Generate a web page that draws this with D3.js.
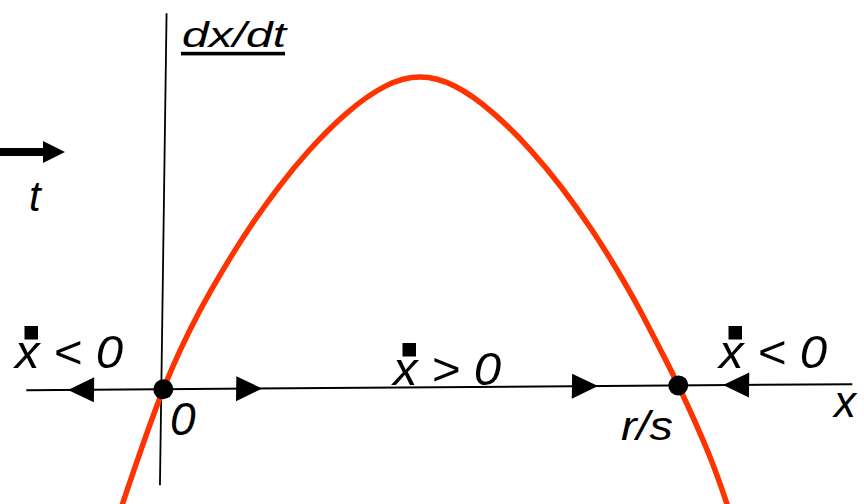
<!DOCTYPE html>
<html>
<head>
<meta charset="utf-8">
<script src="https://cdn.jsdelivr.net/npm/d3@7"></script>
<style>
  html, body { margin: 0; padding: 0; background: #fff; }
  svg { display: block; }
  text { font-family: "Liberation Sans", Arial, sans-serif; font-style: italic; fill: #000; }
</style>
</head>
<body>
<svg id="chart" width="864" height="504"></svg>
<script>
// Logistic growth phase line: population x against its rate dx/dt
// x measured so that the carrying capacity r/s sits at 100
const popX  = [-7.8, 0, 6.95, 11.25, 16.03, 21.88, 27.74, 34.88, 42.31, 49.0,
               55.74, 63.31, 70.66, 76.72, 82.8, 87.8, 92.32, 96.35, 100, 105.95, 109.98];
const rateV = [-9.45, 0, 6.36, 9.57, 12.78, 16.22, 19.19, 22.14, 24.29, 25.0,
               24.25, 22.05, 19.05, 16.05, 12.57, 9.33, 6.1, 2.95, 0, -5.38, -9.82];

// Equilibria (zero crossings) and their labels
const equilibria = [0, 100];
const equilibriumLabels = ["0", "r/s"];

// Flow direction arrows on the x axis (tip position, direction)
const flowTips = [-18.5, 19.2, 84.4, 108.7];
const flowDirs = [-1, 1, 1, -1];

// Sign annotations for dx/dt along the axis
const signLabels = ["x < 0", "x > 0", "x < 0"];

const svg = d3.select("#chart");

const x = d3.scaleLinear().domain([0, 100]).range([0, 515]);
const y = d3.scaleLinear().domain([0, 25]).range([0, -310.4]);

// Slightly sheared plotting frame, origin at the zero equilibrium
const g = svg.append("g")
  .attr("transform", "translate(163.3,389.3) matrix(1,-0.0075,-0.014,1,0,0)");

// axes
g.append("line")
  .attr("x1", -137).attr("x2", 689).attr("y1", 0).attr("y2", 0)
  .attr("stroke", "#000").attr("stroke-width", 2);
g.append("line")
  .attr("x1", -2).attr("x2", -2).attr("y1", -376).attr("y2", 96)
  .attr("stroke", "#000").attr("stroke-width", 1.8);

// the rate curve
const pts = popX.map((v, i) => [v, rateV[i]]);
g.append("path")
  .datum(pts)
  .attr("fill", "none")
  .attr("stroke", "#ff3300")
  .attr("stroke-width", 5.5)
  .attr("d", d3.line().x(d => x(d[0])).y(d => y(d[1])).curve(d3.curveNatural));

// flow arrows
g.selectAll("path.flow")
  .data(flowTips.map((t, i) => ({ t, dir: flowDirs[i] })))
  .join("path")
  .attr("class", "flow")
  .attr("fill", "#000")
  .attr("d", d => {
    const tip = x(d.t), base = tip - d.dir * 26;
    return `M${tip},0 L${base},-12.5 L${base},12.5 Z`;
  });

// equilibrium dots
g.selectAll("circle.eq")
  .data(equilibria)
  .join("circle")
  .attr("class", "eq")
  .attr("cx", d => x(d)).attr("cy", 0).attr("r", 10)
  .attr("fill", "#000");

// y axis title
svg.append("text")
  .attr("x", 182).attr("y", 47)
  .attr("font-size", 35)
  .attr("textLength", 104).attr("lengthAdjust", "spacingAndGlyphs")
  .text("dx/dt");
svg.append("rect")
  .attr("x", 181).attr("y", 51.8).attr("width", 104).attr("height", 3.6)
  .attr("fill", "#000");

// time arrow
svg.append("line")
  .attr("x1", 0).attr("x2", 45).attr("y1", 152).attr("y2", 152)
  .attr("stroke", "#000").attr("stroke-width", 8);
svg.append("path")
  .attr("d", "M65,152 L43,141 L43,163 Z").attr("fill", "#000");
svg.append("text")
  .attr("x", 29).attr("y", 211).attr("font-size", 42).text("t");

// sign labels with dot-over-x marks
const signPos = [[15, 368], [393, 385], [719, 368]];
signLabels.forEach((s, i) => {
  const [tx, ty] = signPos[i];
  svg.append("text")
    .attr("x", tx).attr("y", ty).attr("font-size", 47)
    .attr("textLength", 108).attr("lengthAdjust", "spacingAndGlyphs")
    .text(s);
  svg.append("rect")
    .attr("x", tx + 9.5).attr("y", ty - 42).attr("width", 13.5).attr("height", 13.5)
    .attr("fill", "#000");
});

// equilibrium labels
svg.append("text").attr("x", 170).attr("y", 435).attr("font-size", 46).text(equilibriumLabels[0]);
svg.append("text").attr("x", 621).attr("y", 440).attr("font-size", 40)
  .attr("textLength", 52).attr("lengthAdjust", "spacingAndGlyphs")
  .text(equilibriumLabels[1]);

// x axis label
svg.append("text").attr("x", 834).attr("y", 417).attr("font-size", 44).text("x");
</script>
</body>
</html>
